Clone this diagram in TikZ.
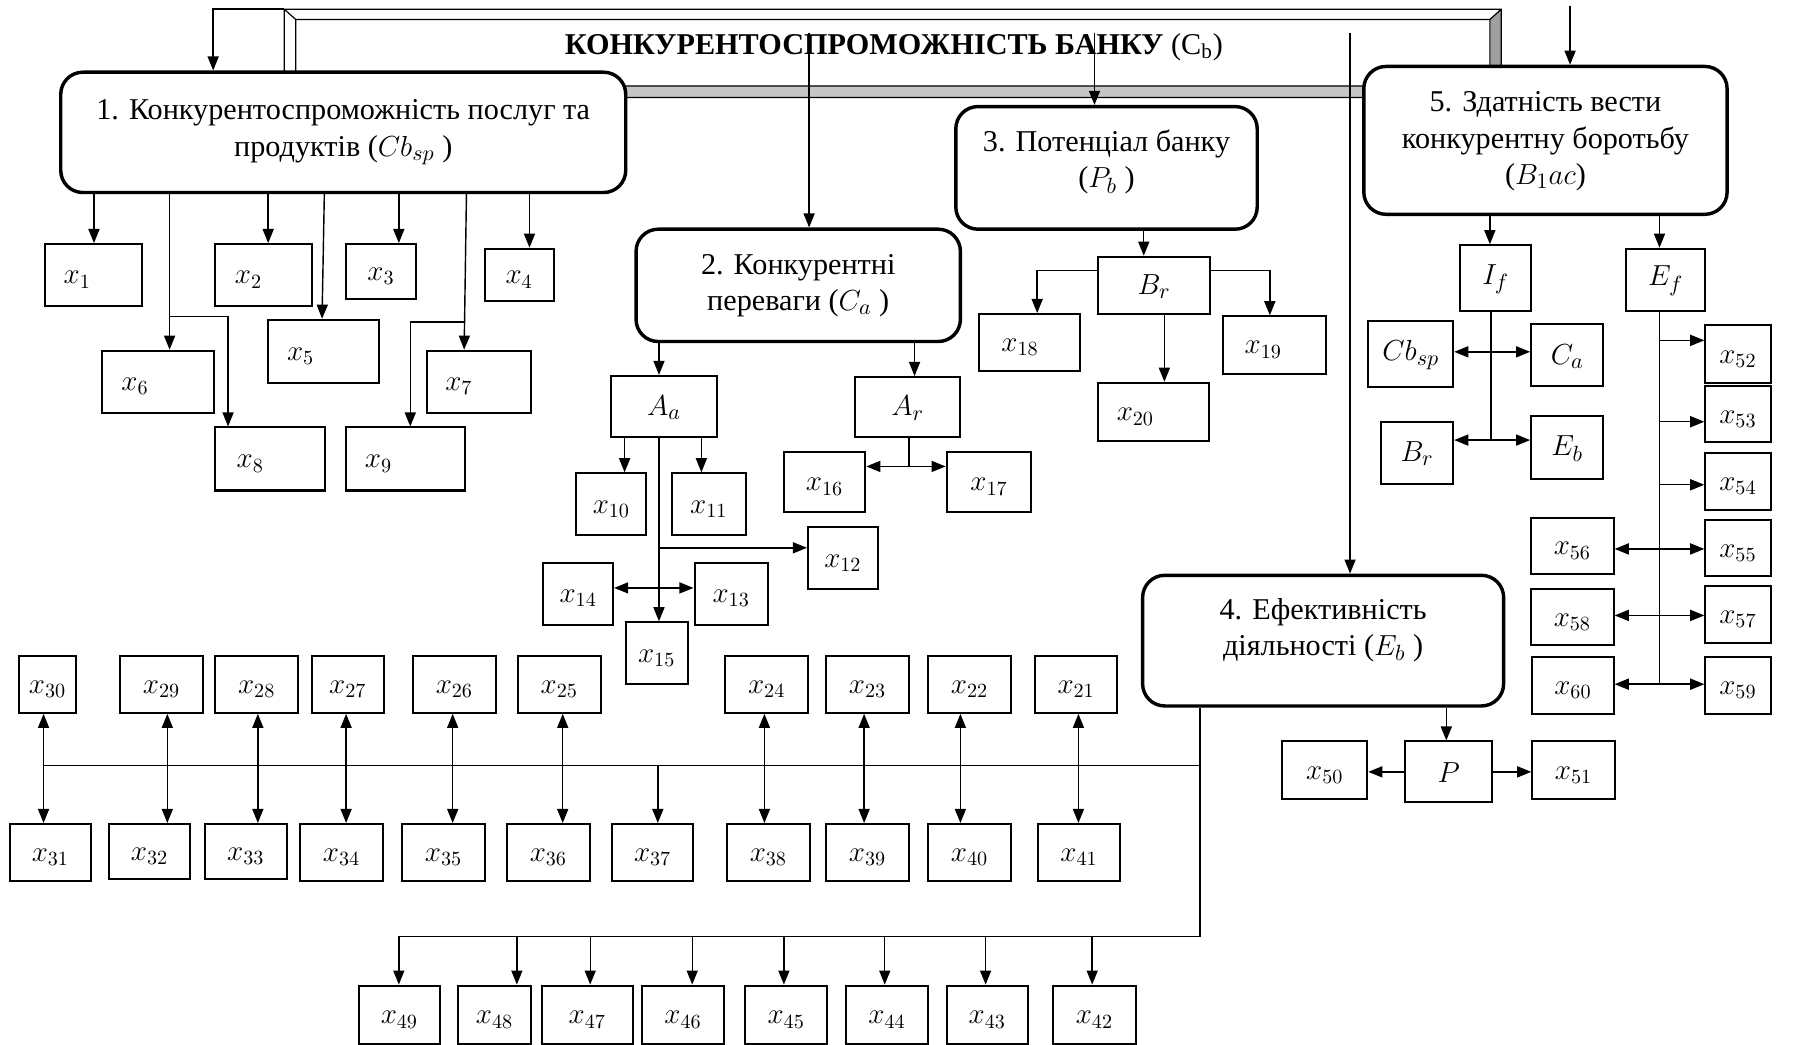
\documentclass[tikz,border=0pt]{standalone}
\usepackage{fontspec}
\setmainfont{Liberation Serif}
\usetikzlibrary{arrows.meta}

\begin{document}
\begin{tikzpicture}[x=0.02cm, y=-0.02cm, >={Triangle[length=7pt,width=5.5pt]}, line width=0.7pt,
    rc/.style n args={4}{at={({(#1+#3)/2},{(#2+#4)/2})}, minimum width={(#3-#1)*0.02cm}, minimum height={(#4-#2)*0.02cm}},
    big/.style={draw, line width=1.7pt, rounded corners=11pt, fill=white, inner sep=0pt, align=center, font=\fontsize{15}{18}\selectfont},
    xb/.style={draw, line width=1pt, fill=white, inner sep=0pt, text height=11pt, font=\fontsize{14}{16}\selectfont},
    ls/.style={execute at end node={\hspace*{#1}}}]
\useasboundingbox (0,0) rectangle (1568,911);
% title frame
\fill[gray!45] (248,85)--(1310,85)--(1300,75)--(258,75)--cycle;
\fill[gray!75] (1310,8)--(1310,85)--(1300,75)--(1300,17)--cycle;
\draw[line width=0.6pt] (248,8) rectangle (1310,85) (258,17) rectangle (1300,75)
   (248,8)--(258,17) (1310,8)--(1300,17) (1310,85)--(1300,75) (248,85)--(258,75);
\coordinate (fr) at (248,8);
\coordinate (in5) at (1370,5);
\node[inner sep=0pt, font=\fontsize{15}{18}\selectfont] (cb) at (780,41) {\textbf{КОНКУРЕНТОСПРОМОЖНІСТЬ БАНКУ} (C\textsubscript{b})};

% main blocks
\node[big, rc={53}{63}{546}{168}] (b1) {1. Конкурентоспроможність послуг та\\продуктів ($Cb_{sp}$ )};
\node[big, rc={555}{200}{838}{298}] (b2) {2. Конкурентні\\переваги ($C_a$ )};
\node[big, rc={834}{93}{1097}{200}] (b3) {3. Потенціал банку\\($P_b$ )\rule[-9pt]{0pt}{9pt}};
\node[big, rc={997}{502}{1312}{616}] (b4) {4. Ефективність\\діяльності ($E_b$ )\rule[-13.5pt]{0pt}{13.5pt}};
\node[big, rc={1190}{58}{1507}{187}] (b5) {\rule{0pt}{11pt}5. Здатність вести\\конкурентну боротьбу\\($B_1ac$)};

\draw[->] (fr) -| (186,0 |- b1.north);
\draw[->] (706,0 |- cb.north) -- (706,0 |- b2.north);
\draw[->] (955,0 |- cb.north) -- (955,0 |- b3.north);
\draw[->] (1178,0 |- cb.north) -- (1178,0 |- b4.north);
\draw[->] (in5) -- (1370,0 |- b5.north);

% block 1
\node[xb, ls=16pt, rc={39}{213}{124}{267}] (x1) {$x_{1}$};
\node[xb, ls=15pt, rc={188}{213}{272}{267}] (x2) {$x_{2}$};
\node[xb, rc={302}{213}{363}{261}] (x3) {$x_{3}$};
\node[xb, rc={423}{217}{483}{263}] (x4) {$x_{4}$};
\node[xb, ls=23pt, rc={234}{279}{331}{334}] (x5) {$x_{5}$};
\node[xb, ls=23pt, rc={89}{306}{187}{360}] (x6) {$x_{6}$};
\node[xb, ls=20pt, rc={373}{306}{463}{360}] (x7) {$x_{7}$};
\node[xb, ls=20pt, rc={188}{373}{284}{428}] (x8) {$x_{8}$};
\node[xb, ls=27pt, rc={302}{373}{406}{428}] (x9) {$x_{9}$};
\coordinate (j6) at (148,276);
\coordinate (j7) at (406,281);
\draw[->] (82,0 |- b1.south) -- (82,0 |- x1.north);
\draw[->] (148,0 |- b1.south) -- (148,0 |- x6.north);
\draw[->] (j6) -| (199,0 |- x8.north);
\draw[->] (234,0 |- b1.south) -- (234,0 |- x2.north);
\draw[->] (283,0 |- b1.south) -- (281,0 |- x5.north);
\draw[->] (348,0 |- b1.south) -- (348,0 |- x3.north);
\draw[->] (407,0 |- b1.south) -- (405,0 |- x7.north);
\draw[->] (j7) -| (358,0 |- x9.north);
\draw[->] (462,0 |- b1.south) -- (462,0 |- x4.north);

% block 2
\node[xb, font=\fontsize{15}{18}\selectfont, rc={533}{328}{626}{381}] (Aa) {$A_a$};
\node[xb, font=\fontsize{15}{18}\selectfont, rc={746}{329}{838}{381}] (Ar) {$A_r$};
\node[xb, rc={503}{413}{564}{467}] (x10) {$x_{10}$};
\node[xb, rc={586}{413}{651}{467}] (x11) {$x_{11}$};
\node[xb, rc={705}{460}{766}{514}] (x12) {$x_{12}$};
\node[xb, rc={606}{491}{670}{545}] (x13) {$x_{13}$};
\node[xb, rc={474}{491}{535}{545}] (x14) {$x_{14}$};
\node[xb, rc={546}{543}{600}{597}] (x15) {$x_{15}$};
\node[xb, rc={684}{394}{755}{447}] (x16) {$x_{16}$};
\node[xb, rc={826}{394}{900}{447}] (x17) {$x_{17}$};
\coordinate (ja1) at (575,478);
\coordinate (ja2) at (575,513);
\coordinate (jr) at (793,407);
\draw[->] (575,0 |- b2.south) -- (575,0 |- Aa.north);
\draw[->] (798,0 |- b2.south) -- (798,0 |- Ar.north);
\draw[->] (545,0 |- Aa.south) -- (545,0 |- x10.north);
\draw[->] (612,0 |- Aa.south) -- (612,0 |- x11.north);
\draw[->] (575,0 |- Aa.south) -- (575,0 |- x15.north);
\draw[->] (ja1) -- (ja1 -| x12.west);
\draw[<->] (ja2 -| x14.east) -- (ja2 -| x13.west);
\draw (793,0 |- Ar.south) -- (jr);
\draw[<->] (jr -| x16.east) -- (jr -| x17.west);

% block 3
\node[xb, font=\fontsize{15}{18}\selectfont, rc={958}{224}{1056}{274}] (Br) {$B_r$};
\node[xb, ls=9pt, rc={854}{274}{942}{324}] (x18) {$x_{18}$};
\node[xb, ls=11pt, rc={1067}{276}{1157}{326}] (x19) {$x_{19}$};
\node[xb, ls=18pt, rc={958}{334}{1055}{385}] (x20) {$x_{20}$};
\draw[->] (998,0 |- b3.south) -- (998,0 |- Br.north);
\draw[->] (Br.west |- 0,236) -| (905,0 |- x18.north);
\draw[->] (Br.east |- 0,236) -| (1108,0 |- x19.north);
\draw[->] (1016,0 |- Br.south) -- (1016,0 |- x20.north);

% block 5
\node[xb, font=\fontsize{15}{18}\selectfont, rc={1274}{214}{1336}{271}] (If) {$I_f$};
\node[xb, font=\fontsize{15}{18}\selectfont, rc={1419}{217}{1488}{271}] (Ef) {$E_f$};
\node[xb, font=\fontsize{15}{18}\selectfont, rc={1194}{280}{1268}{338}] (Cbsp) {$Cb_{sp}$};
\node[xb, font=\fontsize{15}{18}\selectfont, rc={1336}{283}{1399}{337}] (Ca) {$C_a$};
\node[xb, font=\fontsize{15}{18}\selectfont, rc={1205}{368}{1268}{422}] (Br2) {$B_r$};
\node[xb, font=\fontsize{15}{18}\selectfont, rc={1336}{363}{1399}{418}] (Eb) {$E_b$};
\node[xb, rc={1488}{284}{1545}{334}] (x52) {$x_{52}$};
\node[xb, rc={1488}{337}{1545}{386}] (x53) {$x_{53}$};
\node[xb, rc={1488}{395}{1545}{445}] (x54) {$x_{54}$};
\node[xb, rc={1488}{454}{1545}{503}] (x55) {$x_{55}$};
\node[xb, rc={1336}{452}{1408}{501}] (x56) {$x_{56}$};
\node[xb, rc={1488}{511}{1545}{561}] (x57) {$x_{57}$};
\node[xb, rc={1336}{514}{1408}{563}] (x58) {$x_{58}$};
\node[xb, rc={1488}{573}{1545}{623}] (x59) {$x_{59}$};
\node[xb, rc={1337}{573}{1408}{623}] (x60) {$x_{60}$};
\coordinate (ji1) at (1301,307);
\coordinate (ji2) at (1301,384);
\coordinate (je1) at (1448,297);
\coordinate (je2) at (1448,368);
\coordinate (je3) at (1448,423);
\coordinate (je4) at (1448,479);
\coordinate (je5) at (1448,537);
\coordinate (je6) at (1448,597);
\draw[->] (1300,0 |- b5.south) -- (1300,0 |- If.north);
\draw[->] (1448,0 |- b5.south) -- (1448,0 |- Ef.north);
\draw (1301,0 |- If.south) -- (ji2);
\draw[<->] (ji1 -| Cbsp.east) -- (ji1 -| Ca.west);
\draw[<->] (ji2 -| Br2.east) -- (ji2 -| Eb.west);
\draw (1448,0 |- Ef.south) -- (je6);
\draw[->] (je1) -- (je1 -| x52.west);
\draw[->] (je2) -- (je2 -| x53.west);
\draw[->] (je3) -- (je3 -| x54.west);
\draw[<->] (je4 -| x56.east) -- (je4 -| x55.west);
\draw[<->] (je5 -| x58.east) -- (je5 -| x57.west);
\draw[<->] (je6 -| x60.east) -- (je6 -| x59.west);

% block 4
\node[xb, font=\fontsize{15}{18}\selectfont, rc={1226}{647}{1302}{700}] (P) {$P$};
\node[xb, rc={1119}{647}{1193}{697}] (x50) {$x_{50}$};
\node[xb, rc={1337}{647}{1409}{697}] (x51) {$x_{51}$};
\draw[->] (1262,0 |- b4.south) -- (1262,0 |- P.north);
\draw[->] (P.west) -- (P.west -| x50.east);
\draw[->] (P.east) -- (P.east -| x51.west);

\node[xb, rc={903}{572}{975}{622}] (x21) {$x_{21}$};
\node[xb, rc={810}{572}{882}{622}] (x22) {$x_{22}$};
\node[xb, rc={721}{572}{793}{622}] (x23) {$x_{23}$};
\node[xb, rc={633}{572}{705}{622}] (x24) {$x_{24}$};
\node[xb, rc={452}{572}{524}{622}] (x25) {$x_{25}$};
\node[xb, rc={360}{572}{433}{622}] (x26) {$x_{26}$};
\node[xb, rc={272}{572}{335}{622}] (x27) {$x_{27}$};
\node[xb, rc={188}{572}{260}{622}] (x28) {$x_{28}$};
\node[xb, rc={105}{572}{177}{622}] (x29) {$x_{29}$};
\node[xb, rc={17}{572}{66}{622}] (x30) {$x_{30}$};
\node[xb, rc={9}{719}{79}{769}] (x31) {$x_{31}$};
\node[xb, rc={95}{719}{166}{767}] (x32) {$x_{32}$};
\node[xb, rc={179}{719}{250}{767}] (x33) {$x_{33}$};
\node[xb, rc={262}{719}{334}{769}] (x34) {$x_{34}$};
\node[xb, rc={351}{719}{423}{769}] (x35) {$x_{35}$};
\node[xb, rc={442}{719}{515}{769}] (x36) {$x_{36}$};
\node[xb, rc={534}{719}{605}{769}] (x37) {$x_{37}$};
\node[xb, rc={634}{719}{707}{769}] (x38) {$x_{38}$};
\node[xb, rc={721}{719}{793}{769}] (x39) {$x_{39}$};
\node[xb, rc={810}{719}{882}{769}] (x40) {$x_{40}$};
\node[xb, rc={906}{719}{977}{769}] (x41) {$x_{41}$};
\node[xb, rc={919}{860}{991}{911}] (x42) {$x_{42}$};
\node[xb, rc={826}{860}{897}{911}] (x43) {$x_{43}$};
\node[xb, rc={738}{860}{810}{911}] (x44) {$x_{44}$};
\node[xb, rc={650}{860}{722}{911}] (x45) {$x_{45}$};
\node[xb, rc={560}{860}{632}{911}] (x46) {$x_{46}$};
\node[xb, rc={473}{860}{552}{911}] (x47) {$x_{47}$};
\node[xb, rc={400}{860}{463}{911}] (x48) {$x_{48}$};
\node[xb, rc={313}{860}{384}{911}] (x49) {$x_{49}$};

\coordinate (bus1) at (1047,668);
\coordinate (bus2) at (1047,817);
\draw (1047,0 |- b4.south) -- (bus2) -- (348,0 |- bus2);
\draw (bus1) -- (38,0 |- bus1);
\draw[<->] (38,0 |- x30.south) -- (38,0 |- x31.north);
\draw[<->] (146,0 |- x29.south) -- (146,0 |- x32.north);
\draw[<->] (225,0 |- x28.south) -- (225,0 |- x33.north);
\draw[<->] (302,0 |- x27.south) -- (302,0 |- x34.north);
\draw[<->] (395,0 |- x26.south) -- (395,0 |- x35.north);
\draw[<->] (491,0 |- x25.south) -- (491,0 |- x36.north);
\draw[->] (574,0 |- bus1) -- (574,0 |- x37.north);
\draw[<->] (667,0 |- x24.south) -- (667,0 |- x38.north);
\draw[<->] (754,0 |- x23.south) -- (754,0 |- x39.north);
\draw[<->] (838,0 |- x22.south) -- (838,0 |- x40.north);
\draw[<->] (941,0 |- x21.south) -- (941,0 |- x41.north);
\draw[->] (348,0 |- bus2) -- (348,0 |- x49.north);
\draw[->] (451,0 |- bus2) -- (451,0 |- x48.north);
\draw[->] (515,0 |- bus2) -- (515,0 |- x47.north);
\draw[->] (604,0 |- bus2) -- (604,0 |- x46.north);
\draw[->] (684,0 |- bus2) -- (684,0 |- x45.north);
\draw[->] (772,0 |- bus2) -- (772,0 |- x44.north);
\draw[->] (860,0 |- bus2) -- (860,0 |- x43.north);
\draw[->] (953,0 |- bus2) -- (953,0 |- x42.north);
\end{tikzpicture}
\end{document}
